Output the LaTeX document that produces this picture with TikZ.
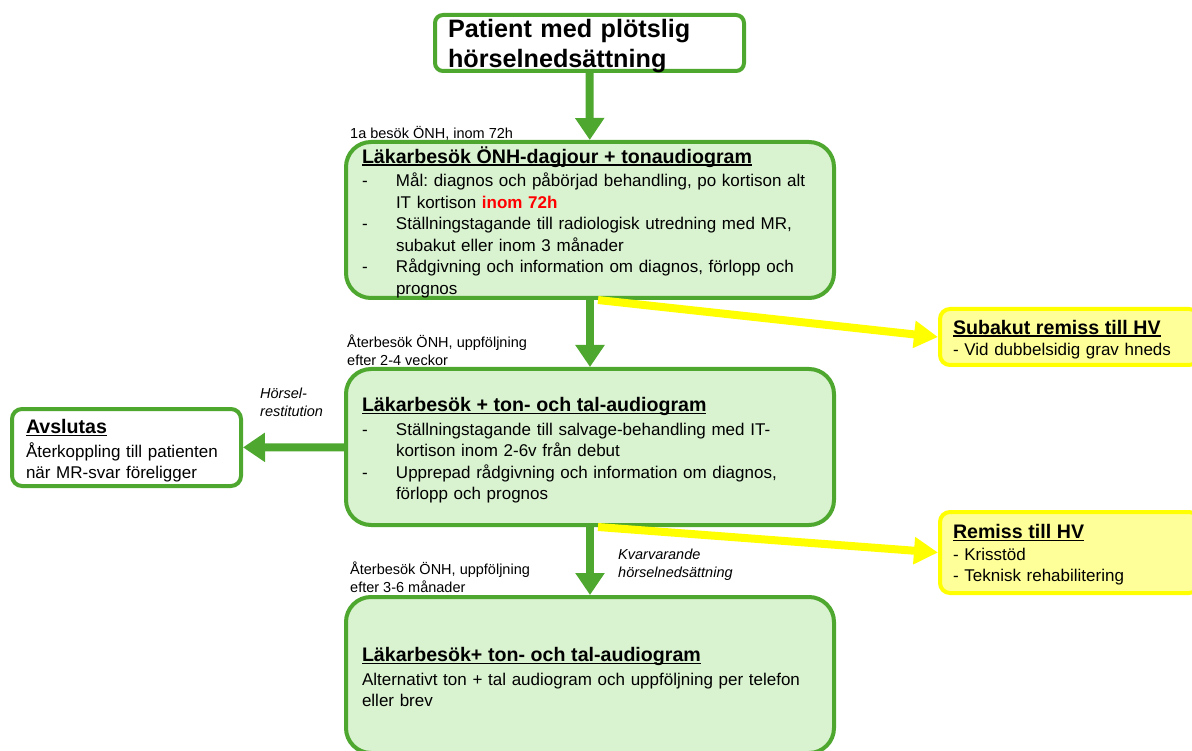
\documentclass[tikz,border=0pt]{standalone}
\usepackage{fontspec}
\setmainfont{Liberation Sans}
\usetikzlibrary{arrows.meta}
\definecolor{grn}{HTML}{4EA72E}
\definecolor{ltgrn}{HTML}{D9F2D0}
\definecolor{ylw}{HTML}{FFFF00}
\definecolor{ltylw}{HTML}{FFFF99}
\hyphenpenalty=10000
\exhyphenpenalty=10000
\frenchspacing
\newcommand{\bodyfont}{\normalfont\fontsize{17}{21.5}\selectfont}
\newcommand{\titlefont}{\fontsize{19.6}{23}\selectfont\bfseries}
\newcommand{\smallfont}{\fontsize{14.5}{18}\selectfont}
\newcommand{\uln}[1]{\setbox0\hbox{#1}\rlap{\rule[-2.5pt]{\wd0}{1.2pt}}\box0}
\newcommand{\dashitem}[1]{\par\hangindent=34pt\hangafter=1\noindent\makebox[34pt][l]{-}#1\par}
\newcommand{\textdown}[1]{\par\kern-#1}
\tikzset{stepbox/.style={draw=grn,line width=4pt,rounded corners=25pt,fill=ltgrn,align=left,
    inner xsep=16pt,inner ysep=0pt,text width=456pt,minimum height=156pt,font=\bodyfont}}
\tikzset{endbox/.style={draw=grn,line width=4pt,rounded corners=10pt,fill=white,align=left,
    inner xsep=14pt,inner ysep=0pt,font=\bodyfont}}
\tikzset{hvbox/.style={draw=ylw,line width=4pt,rounded corners=10pt,fill=ltylw,align=left,
    inner xsep=13pt,inner ysep=0pt,text width=233pt,font=\bodyfont}}
\tikzset{note/.style={inner sep=0pt,align=left,anchor=west,font=\smallfont}}
\tikzset{garrow/.style={grn,line width=8pt,-{Triangle[width=28pt,length=22pt]}}}
\tikzset{yarrow/.style={ylw,line width=8pt,-{Triangle[width=26pt,length=24pt]}}}

\begin{document}
\begin{tikzpicture}[x=1pt,y=-1pt]
	\useasboundingbox (0,0) rectangle (1192,751);
	\clip (0,0) rectangle (1192,751);

	% main path
	\node[endbox,rounded corners=8pt,minimum width=309pt,minimum height=56pt,text width=283pt,inner xsep=13pt,
		text height=20pt,text depth=30pt,font=\fontsize{25.2}{30}\selectfont\bfseries] (start) at (589.5,43) {Patient med plötslig\\hörselnedsättning};
	\node[stepbox] (visit1) at (590,220) {\titlefont\uln{Läkarbesök ÖNH-dagjour + tonaudiogram}\par\vspace{2pt}\bodyfont
		\dashitem{Mål: diagnos och påbörjad behandling, po kortison alt\newline IT kortison \textcolor{red}{\textbf{inom 72h}}}
		\dashitem{Ställningstagande till radiologisk utredning med MR,\newline subakut eller inom 3 månader}
		\dashitem{Rådgivning och information om diagnos, förlopp och\newline prognos}\textdown{4pt}};
	\node[stepbox] (visit2) at (590,447) {\titlefont\uln{Läkarbesök + ton- och tal-audiogram}\par\vspace{2pt}\bodyfont
		\dashitem{Ställningstagande till salvage-behandling med IT-\newline kortison inom 2-6v från debut}
		\dashitem{Upprepad rådgivning och information om diagnos,\newline förlopp och prognos}\textdown{7pt}};
	\node[stepbox] (visit3) at (590,675) {\titlefont\uln{Läkarbesök+ ton- och tal-audiogram}\par\vspace{2pt}\bodyfont
		Alternativt ton + tal audiogram och uppföljning per telefon\\eller brev\textdown{4pt}};

	% side boxes
	\node[endbox,minimum height=77pt,text width=201pt] (done) at (126.5,447.5) {\titlefont\uln{Avslutas}\par\vspace{2pt}\bodyfont
		Återkoppling till patienten\\när MR-svar föreligger\textdown{7pt}};
	\node[hvbox,minimum height=56pt] (subacute) at (1069.5,337) {\titlefont\uln{Subakut remiss till HV}\par\bodyfont
		- Vid dubbelsidig grav hneds\textdown{5pt}};
	\node[hvbox,minimum height=81pt] (referral) at (1069.5,552.5) {\titlefont\uln{Remiss till HV}\par\bodyfont
		- Krisstöd\\- Teknisk rehabilitering\textdown{5pt}};

	% arrows
	\draw[garrow] (start) -- (visit1);
	\draw[garrow] (visit1) -- (visit2);
	\draw[garrow] (visit2) -- (visit3);
	\draw[garrow] (visit2) -- (done);
	\draw[yarrow] ([xshift=8pt]visit1.south) -- (subacute.west);
	\draw[yarrow] ([xshift=8pt]visit2.south) -- (referral.west);

	% labels
	\node[note] (lab1) at (350,133) {1a besök ÖNH, inom 72h};
	\node[note] (lab2) at (347,350) {Återbesök ÖNH, uppföljning\\efter 2-4 veckor};
	\node[note,font=\smallfont\itshape] (lab3) at (260,402) {Hörsel-\\restitution};
	\node[note,font=\smallfont\itshape] (lab4) at (618,565) {Kvarvarande\\hörselnedsättning};
	\node[note] (lab5) at (350,577) {Återbesök ÖNH, uppföljning\\efter 3-6 månader};
\end{tikzpicture}
\end{document}
